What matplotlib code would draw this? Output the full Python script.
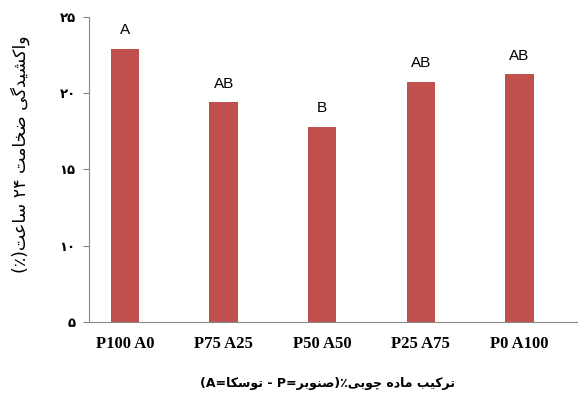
import matplotlib
matplotlib.use("Agg")
import matplotlib.pyplot as plt
import matplotlib.transforms as mtransforms

categories = ["P100 A0", "P75 A25", "P50 A50", "P25 A75", "P0 A100"]
swelling = [22.9, 19.4, 17.8, 20.75, 21.25]
groups = ["A", "AB", "B", "AB", "AB"]
y_ticks = [5, 10, 15, 20, 25]

BAR_COLOR = "#C0504D"
AXIS_COLOR = "#898989"

# matplotlib does no Arabic-script shaping, so pick the contextual
# presentation forms by hand: (isolated, final, initial, medial)
FORMS = {
    "ا": ("\uFE8D", "\uFE8E", None, None),
    "ب": ("\uFE8F", "\uFE90", "\uFE91", "\uFE92"),
    "پ": ("\uFB56", "\uFB57", "\uFB58", "\uFB59"),
    "ت": ("\uFE95", "\uFE96", "\uFE97", "\uFE98"),
    "چ": ("\uFB7A", "\uFB7B", "\uFB7C", "\uFB7D"),
    "خ": ("\uFEA5", "\uFEA6", "\uFEA7", "\uFEA8"),
    "د": ("\uFEA9", "\uFEAA", None, None),
    "ر": ("\uFEAD", "\uFEAE", None, None),
    "س": ("\uFEB1", "\uFEB2", "\uFEB3", "\uFEB4"),
    "ش": ("\uFEB5", "\uFEB6", "\uFEB7", "\uFEB8"),
    "ص": ("\uFEB9", "\uFEBA", "\uFEBB", "\uFEBC"),
    "ض": ("\uFEBD", "\uFEBE", "\uFEBF", "\uFEC0"),
    "ع": ("\uFEC9", "\uFECA", "\uFECB", "\uFECC"),
    "ک": ("\uFB8E", "\uFB8F", "\uFB90", "\uFB91"),
    "گ": ("\uFB92", "\uFB93", "\uFB94", "\uFB95"),
    "م": ("\uFEE1", "\uFEE2", "\uFEE3", "\uFEE4"),
    "ن": ("\uFEE5", "\uFEE6", "\uFEE7", "\uFEE8"),
    "ه": ("\uFEE9", "\uFEEA", "\uFEEB", "\uFEEC"),
    "و": ("\uFEED", "\uFEEE", None, None),
    "ی": ("\uFBFC", "\uFBFD", "\uFBFE", "\uFBFF"),
}


def shape(word):
    """Join the letters of one Persian word and return it in visual order."""
    out = []
    for i, ch in enumerate(word):
        if ch not in FORMS:
            out.append(ch)
            continue
        prev = word[i - 1] if i > 0 else ""
        nxt = word[i + 1] if i + 1 < len(word) else ""
        iso, fin, ini, med = FORMS[ch]
        join_prev = prev in FORMS and FORMS[prev][2] is not None
        join_next = nxt in FORMS and ini is not None
        if join_prev and join_next:
            out.append(med)
        elif join_prev:
            out.append(fin)
        elif join_next:
            out.append(ini)
        else:
            out.append(iso)
    return "".join(reversed(out))


FA_DIGITS = str.maketrans("0123456789", "۰۱۲۳۴۵۶۷۸۹")

ylabel = ("(٪)" + shape("ساعت") + " ۲۴ " + shape("ضخامت") + " "
          + shape("واکشیدگی"))
xlabel = ("(A=" + shape("توسکا") + " - P=" + shape("صنوبر") + ")٪"
          + shape("چوبی") + " " + shape("ماده") + " " + shape("ترکیب"))

fig = plt.figure(figsize=(5.78, 3.98), dpi=100)
ax = fig.add_axes([89 / 578, 76 / 398, 488 / 578, 305 / 398])

x = list(range(len(categories)))
ax.bar(x, swelling, width=0.287, color=BAR_COLOR, zorder=2)

for xi, val, g in zip(x, swelling, groups):
    ax.annotate(g, (xi, val), xytext=(0, 10.5), textcoords="offset points",
                ha="center", va="baseline", fontsize=11,
                family="Liberation Sans")

ax.set_xlim(-0.365, 4.583)
ax.set_ylim(5, 25)
ax.set_yticks(y_ticks)
ax.set_yticklabels([str(t).translate(FA_DIGITS) for t in y_ticks],
                   family="DejaVu Sans", fontweight="bold", fontsize=9.5)
ax.set_xticks(x)
ax.set_xticklabels(categories, family="Liberation Serif", fontweight="bold",
                   fontsize=12)

# category names sit a little to the right of their bars
label_shift_px = [5, 14, 14, 13, 13]
for lab, dx in zip(ax.get_xticklabels(), label_shift_px):
    lab.set_transform(lab.get_transform() + mtransforms.ScaledTranslation(
        dx / 100, 0, fig.dpi_scale_trans))

ax.tick_params(axis="x", length=0, pad=10)
ax.tick_params(axis="y", length=4.5, width=0.8, color=AXIS_COLOR, pad=5)

for side in ("top", "right"):
    ax.spines[side].set_visible(False)
for side in ("left", "bottom"):
    ax.spines[side].set_color(AXIS_COLOR)
    ax.spines[side].set_linewidth(0.8)

fig.text(20 / 578, 1 - 154 / 398, ylabel, rotation=90, ha="center",
         va="center", fontsize=12.5, family="DejaVu Sans")
fig.text(327 / 578, 1 - 383 / 398, xlabel, ha="center", va="center",
         fontsize=9, fontweight="bold", family="DejaVu Sans")

fig.savefig("out.png", dpi=100)
